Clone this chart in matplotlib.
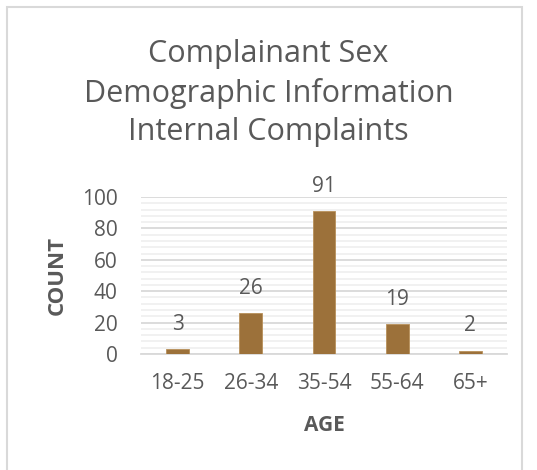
import matplotlib
matplotlib.use('Agg')
import matplotlib.pyplot as plt
from matplotlib.patches import Rectangle
from matplotlib.ticker import MultipleLocator

# données
categories = ['18-25', '26-34', '35-54', '55-64', '65+']
counts = [3, 26, 91, 19, 2]

plt.rcParams['font.family'] = ['Open Sans', 'DejaVu Sans']
gris = '#595959'

figure = plt.figure(figsize=(5.37, 4.70), dpi=100)
W, H = 537, 470

# cadre gris clair autour du graphique
figure.patches.append(Rectangle((7 / W, -0.05), 515 / W, 1 - 7 / H + 0.05,
                                transform=figure.transFigure, fill=False,
                                edgecolor='#d9d9d9', linewidth=1.5))

axes = figure.add_axes([141 / W, 1 - 354 / H, 366 / W, (354 - 197) / H])

x = list(range(len(categories)))
axes.bar(x, counts, width=0.314, color='#9c713a', edgecolor='#b8905a',
         linewidth=0.6, zorder=3)

axes.set_xlim(-0.5, len(categories) - 0.5)
axes.set_ylim(0, 100)
axes.yaxis.set_major_locator(MultipleLocator(20))
axes.yaxis.set_minor_locator(MultipleLocator(4))
axes.grid(axis='y', which='major', color='#d9d9d9', linewidth=1.3, zorder=0)
axes.grid(axis='y', which='minor', color='#f0f0f0', linewidth=1.3, zorder=0)

axes.set_xticks(x)
axes.set_xticklabels(categories)
axes.tick_params(axis='both', which='both', length=0, labelsize=15, colors=gris)
axes.tick_params(axis='x', pad=14)
axes.tick_params(axis='y', pad=17)

for spine in ['top', 'right', 'left']:
    axes.spines[spine].set_visible(False)
axes.spines['bottom'].set_color('#d9d9d9')
axes.spines['bottom'].set_linewidth(1.3)

# étiquettes des valeurs
for i, v in enumerate(counts):
    axes.text(i, v + 16, str(v), ha='center', va='center', fontsize=15, color=gris)

axes.set_xlabel('AGE', fontsize=15, fontweight='bold', color=gris)
axes.xaxis.set_label_coords(0.5, -(425.5 - 354) / 157)
axes.xaxis.label.set_va('center')
axes.set_ylabel('COUNT', fontsize=16, fontweight='bold', color=gris)
axes.yaxis.set_label_coords((57 - 141) / 366, 0.5)
axes.yaxis.label.set_va('center')

figure.text(0.5, 1 - 93 / H, 'Complainant Sex\nDemographic Information\nInternal Complaints',
            ha='center', va='center', fontsize=22, color=gris, linespacing=1.38)

figure.savefig('out.png', dpi=100)
